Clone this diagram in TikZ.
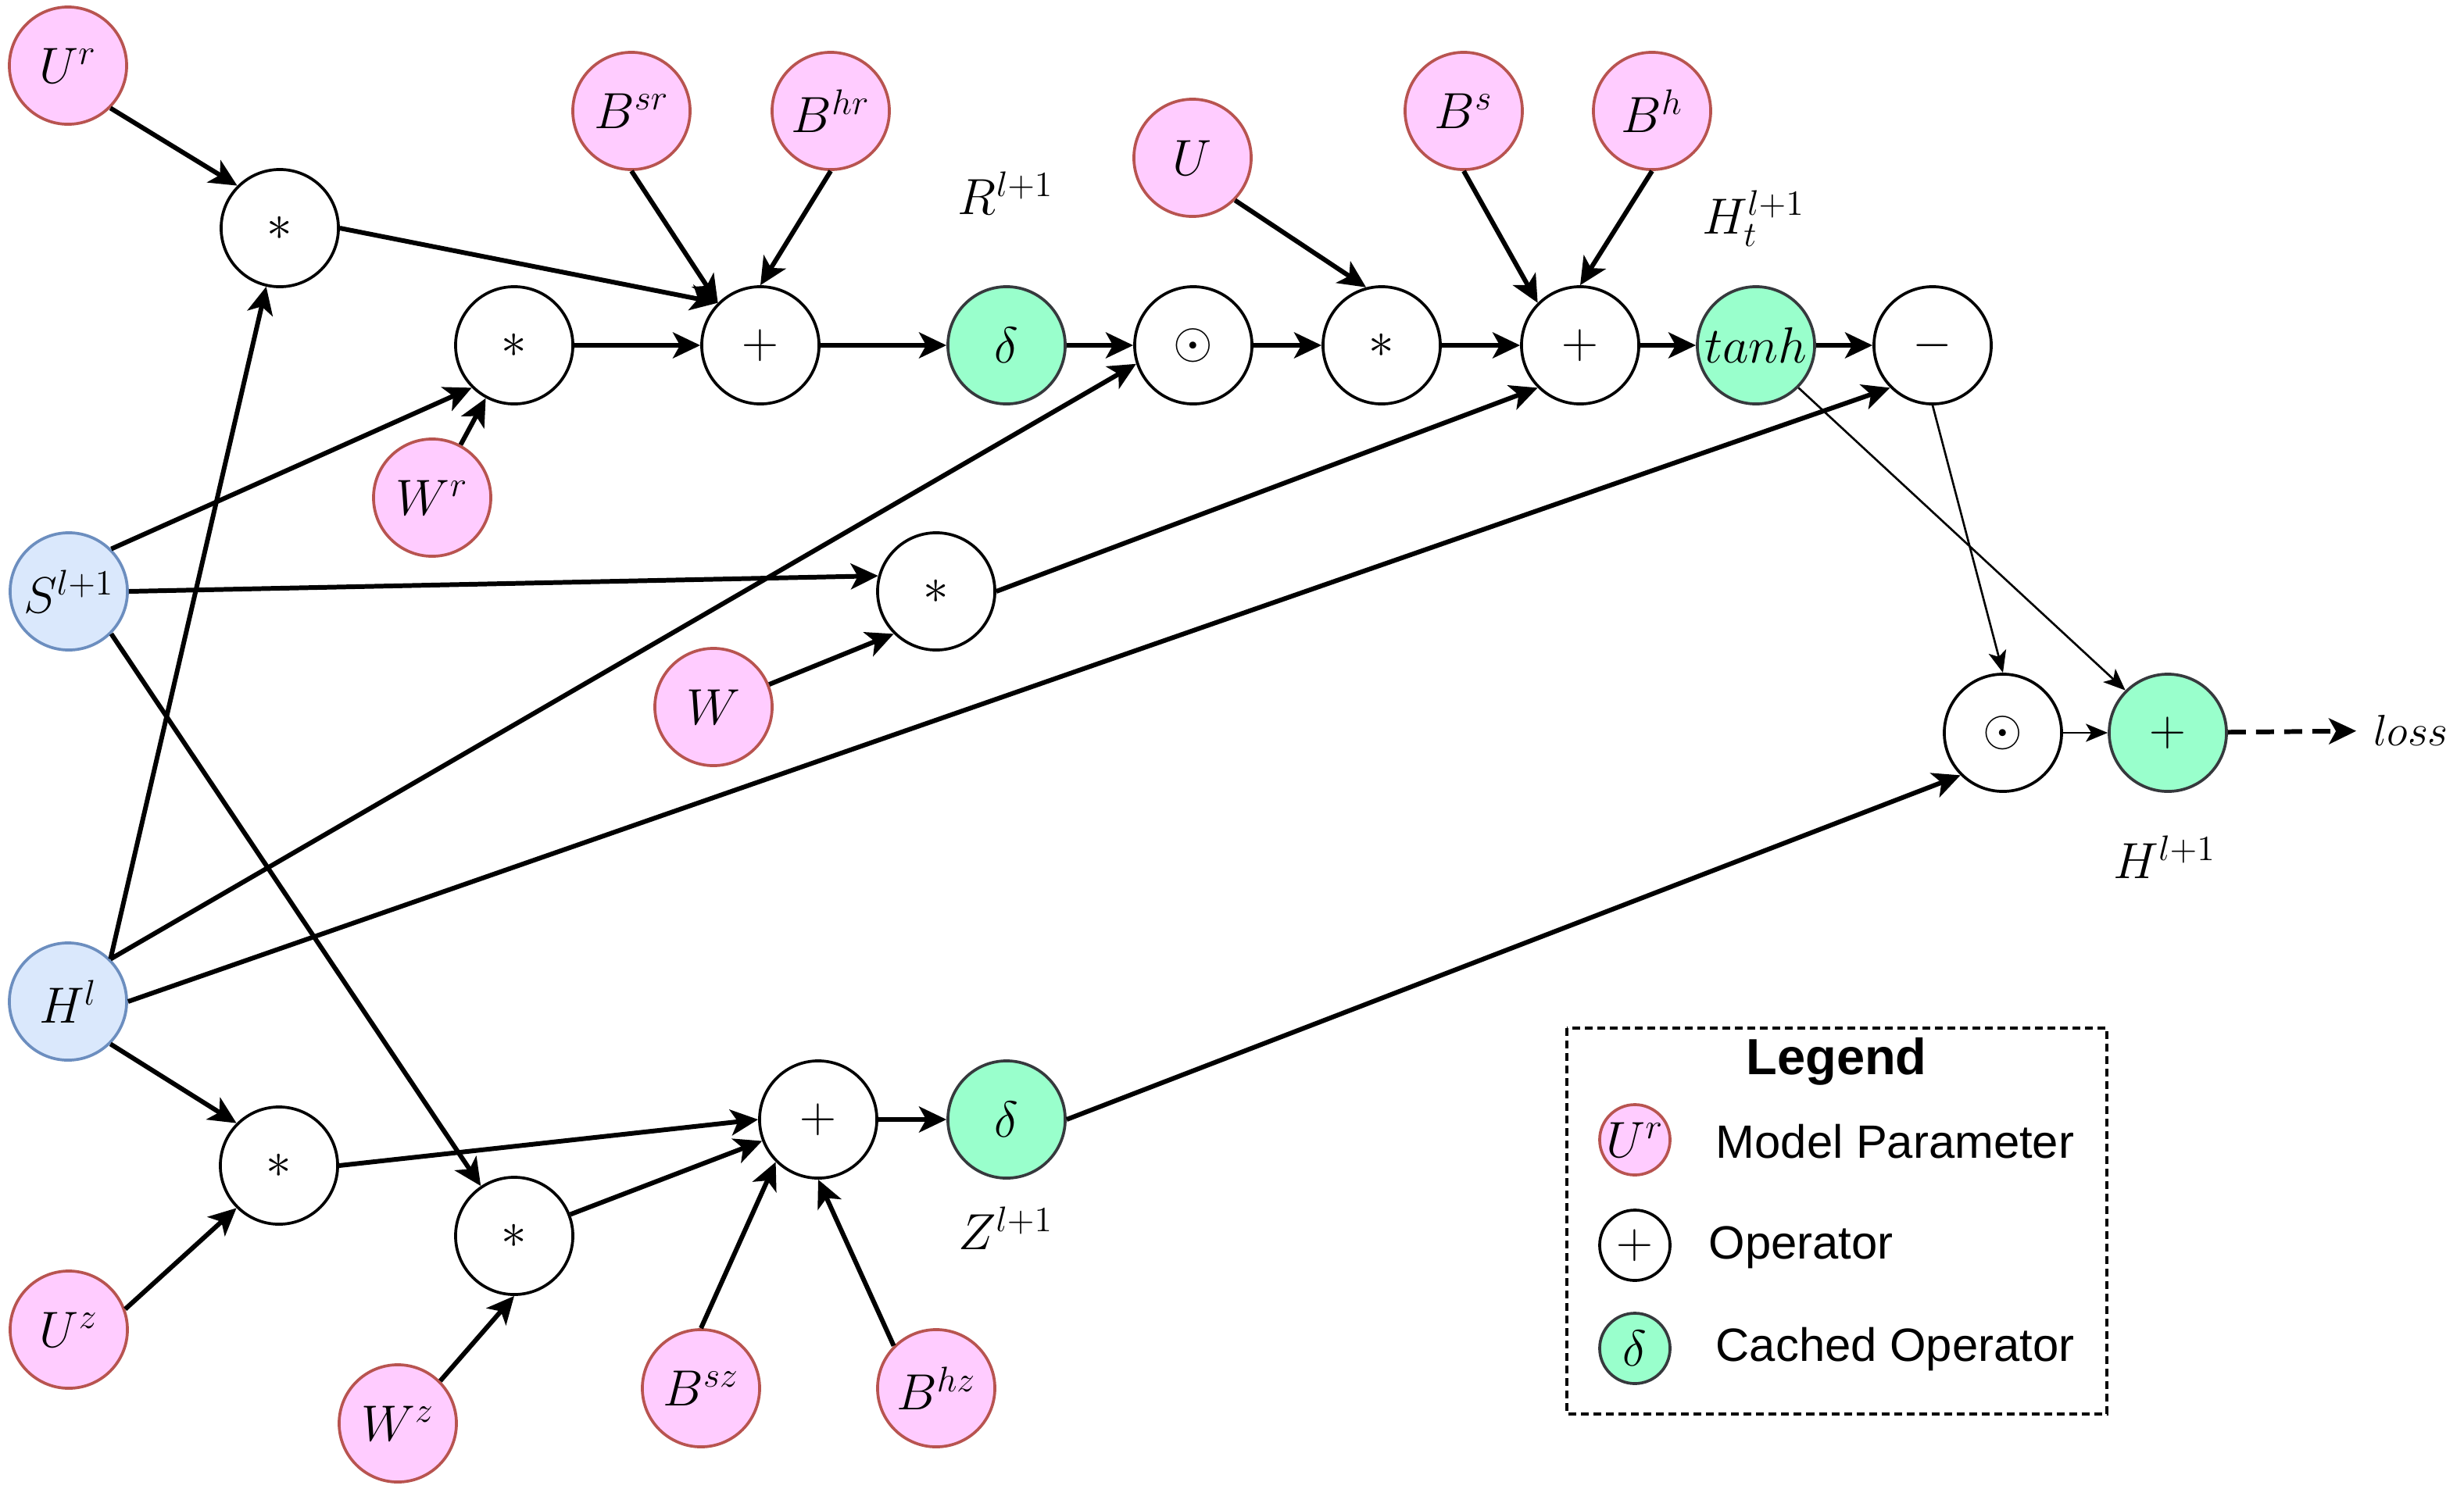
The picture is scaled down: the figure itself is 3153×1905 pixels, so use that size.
\RequirePackage{fix-cm}
\documentclass[tikz,border=0pt]{standalone}
\usepackage{fontspec}
\newfontfamily\legendfont{Liberation Sans}
\usetikzlibrary{arrows.meta}

\definecolor{parfill}{HTML}{FFCCFF}
\definecolor{pardraw}{HTML}{B85450}
\definecolor{infill}{HTML}{DAE8FC}
\definecolor{indraw}{HTML}{6C8EBF}
\definecolor{cachefill}{HTML}{99FFCC}
\definecolor{cachedraw}{HTML}{36393D}

\tikzset{
  base/.style={circle, minimum size=1.5cm, inner sep=0pt, line width=1.05pt,
               font=\fontsize{18.5}{22}\selectfont},
  param/.style={base, fill=parfill, draw=pardraw},
  input/.style={base, fill=infill, draw=indraw},
  op/.style={base, fill=white, draw=black},
  cached/.style={base, fill=cachefill, draw=cachedraw},
  tag/.style={inner sep=2pt, font=\fontsize{18.5}{22}\selectfont},
  flow/.style={line width=1.7pt, -{Stealth[length=0.35cm,width=0.33cm,inset=0.09cm]}},
  fine/.style={line width=0.75pt, -{Stealth[length=0.28cm,width=0.23cm,inset=0.07cm]}},
  legtext/.style={anchor=west, inner sep=0pt, font=\legendfont\fontsize{17}{20}\selectfont},
}

\begin{document}
\begin{tikzpicture}[x=0.01cm, y=-0.01cm]
\useasboundingbox (0,0) rectangle (3153,1905);

% ---- inputs
\node[input] (Sl) at (88,757)  {$S^{l+1}$};
\node[input] (Hl) at (87,1282) {$H^{l}$};

% ---- reset gate branch
\node[param] (Ur)  at (87,84)    {$U^{r}$};
\node[op]    (st1) at (358,292)  {$\ast$};
\node[param] (Bsr) at (808,142)  {$B^{sr}$};
\node[param] (Bhr) at (1063,142) {$B^{hr}$};
\node[op]    (st2) at (658,442)  {$\ast$};
\node[param] (Wr)  at (553,637)  {$W^{r}$};
\node[op]    (pl1) at (973,442)  {$+$};
\node[cached](d1)  at (1288,442) {$\delta$};
\node[tag]   (R)   at (1287,247) {$R^{l+1}$};

% ---- candidate state branch
\node[op]    (od1) at (1527,442) {$\odot$};
\node[param] (U)   at (1526,202) {$U$};
\node[op]    (st3) at (1768,442) {$\ast$};
\node[param] (Bs)  at (1873,142) {$B^{s}$};
\node[param] (Bh)  at (2114,142) {$B^{h}$};
\node[op]    (pl2) at (2022,442) {$+$};
\node[cached](th)  at (2247,442) {$tanh$};
\node[tag]   (Ht)  at (2244,280) {$H_t^{l+1}$};
\node[op]    (mi)  at (2473,442) {$-$};
\node[op]    (st4) at (1198,757) {$\ast$};
\node[param] (W)   at (913,905)  {$W$};

% ---- output
\node[op]    (od2) at (2563,938) {$\odot$};
\node[cached](pH)  at (2774,938) {$+$};
\node[tag]   (Hn)  at (2770,1097) {$H^{l+1}$};
\node[inner sep=6pt, font=\fontsize{16}{20}\selectfont] (loss) at (3085,935) {$loss$};

% ---- update gate branch
\node[op]    (st5) at (357,1492)  {$\ast$};
\node[param] (Uz)  at (88,1702)   {$U^{z}$};
\node[op]    (st6) at (658,1582)  {$\ast$};
\node[param] (Wz)  at (509,1822)  {$W^{z}$};
\node[param] (Bsz) at (897,1777)  {$B^{sz}$};
\node[param] (Bhz) at (1198,1777) {$B^{hz}$};
\node[op]    (pl3) at (1047,1433) {$+$};
\node[cached](d2)  at (1288,1433) {$\delta$};
\node[tag]   (Z)   at (1287,1572) {$Z^{l+1}$};

% ---- connectors: reset gate
\draw[flow] (Ur.south east) -- (st1.north west);
\draw[flow] (Hl.north east) -- (st1);
\draw[flow] (st1.east) -- (pl1.north west);
\draw[flow] (Bsr.south) -- (pl1.north west);
\draw[flow] (Bhr.south) -- (pl1.north);
\draw[flow] (st2.east) -- (pl1.west);
\draw[flow] (Sl.north east) -- (st2.south west);
\draw[flow] (Wr) -- (st2);
\draw[flow] (pl1) -- (d1);

% ---- connectors: candidate state
\draw[flow] (d1) -- (od1);
\draw[flow] (Hl.north east) -- (od1.198);
\draw[flow] (od1) -- (st3);
\draw[flow] (U.south east) -- (st3.105);
\draw[flow] (st3) -- (pl2);
\draw[flow] (Bs.south) -- (pl2.north west);
\draw[flow] (Bh.south) -- (pl2.north);
\draw[flow] (st4.east) -- (pl2.south west);
\draw[flow] (Sl.east) -- (st4.165);
\draw[flow] (W) -- (st4.south west);
\draw[flow] (pl2) -- (th);
\draw[flow] (th) -- (mi);
\draw[flow] (Hl.east) -- (mi.south west);

% ---- connectors: output
\draw[fine] (th.south east) -- (pH.north west);
\draw[fine] (mi.south) -- (od2.north);
\draw[fine] (od2) -- (pH);
\draw[flow] (d2.east) -- (od2.south west);
\draw[flow, dash pattern=on 0.23cm off 0.13cm] (pH) -- (loss);

% ---- connectors: update gate
\draw[flow] (Hl.south east) -- (st5.north west);
\draw[flow] (Uz.20) -- (st5.south west);
\draw[flow] (st5.east) -- (pl3.west);
\draw[flow] (Sl.south east) -- (st6);
\draw[flow] (Wz.north east) -- (st6.south);
\draw[flow] (st6) -- (pl3);
\draw[flow] (Bsz.north) -- (pl3.south west);
\draw[flow] (Bhz.north west) -- (pl3.south);
\draw[flow] (pl3) -- (d2);

% ---- legend
\draw[line width=0.9pt, dash pattern=on 0.1cm off 0.06cm]
  (2005,1316) rectangle (2696,1810);
\node[font=\legendfont\bfseries\fontsize{18.5}{22}\selectfont] (lgt) at (2350,1359) {Legend};
\node[param, minimum size=0.9cm] (lg1) at (2092,1459) {$U^{r}$};
\node[op,    minimum size=0.9cm] (lg2) at (2092,1594) {$+$};
\node[cached,minimum size=0.9cm] (lg3) at (2092,1726) {$\delta$};
\node[legtext] (lt1) at (2195,1461) {Model Parameter};
\node[legtext] (lt2) at (2186,1597) {Operator};
\node[legtext] (lt3) at (2195,1727) {Cached Operator};
\end{tikzpicture}
\end{document}
